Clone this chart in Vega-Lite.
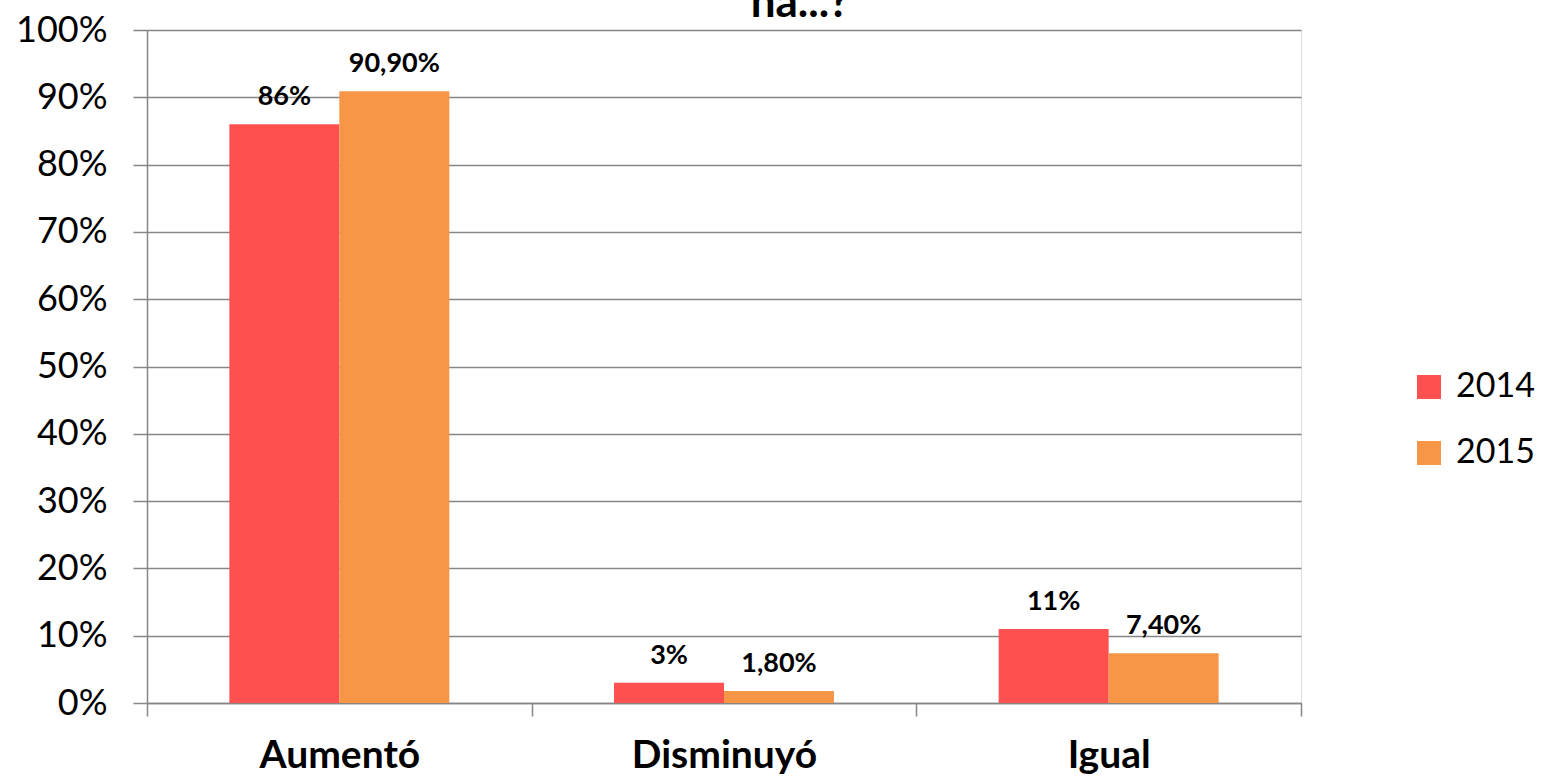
{
  "$schema": "https://vega.github.io/schema/vega-lite/v6.json",
  "width": 1154,
  "height": 673,
  "autosize": {"type": "none"},
  "padding": {"left": 147, "top": 30, "right": 240, "bottom": 75},
  "background": "white",
  "title": {
    "text": "na...?",
    "fontSize": 44,
    "font": "Lato",
    "fontWeight": "bold",
    "color": "black",
    "anchor": "middle",
    "baseline": "alphabetic",
    "offset": 0,
    "dy": 49,
    "dx": 76
  },
  "data": {
    "values": [
      {"categoria": "Aumentó", "anio": "2014", "valor": 86, "etiqueta": "86%"},
      {"categoria": "Aumentó", "anio": "2015", "valor": 90.9, "etiqueta": "90,90%"},
      {"categoria": "Disminuyó", "anio": "2014", "valor": 3, "etiqueta": "3%"},
      {"categoria": "Disminuyó", "anio": "2015", "valor": 1.8, "etiqueta": "1,80%"},
      {"categoria": "Igual", "anio": "2014", "valor": 11, "etiqueta": "11%"},
      {"categoria": "Igual", "anio": "2015", "valor": 7.4, "etiqueta": "7,40%"}
    ]
  },
  "encoding": {
    "x": {
      "field": "categoria",
      "type": "nominal",
      "sort": ["Aumentó", "Disminuyó", "Igual"],
      "scale": {"paddingInner": 0, "paddingOuter": 0},
      "axis": {
        "title": null,
        "labelAngle": 0,
        "labelLimit": 0,
        "tickBand": "extent",
        "tickSize": 13,
        "tickColor": "#868686",
        "tickWidth": 1.5,
        "domainColor": "#868686",
        "domainWidth": 1.5,
        "labelFont": "Lato",
        "labelFontSize": 39,
        "labelFontWeight": "bold",
        "labelColor": "black",
        "labelPadding": 20,
        "grid": false
      }
    },
    "xOffset": {
      "field": "anio",
      "type": "nominal",
      "scale": {"paddingOuter": 0.749, "paddingInner": 0}
    },
    "y": {
      "field": "valor",
      "type": "quantitative",
      "scale": {"domain": [0, 100], "nice": false},
      "axis": {
        "title": null,
        "values": [0, 10, 20, 30, 40, 50, 60, 70, 80, 90, 100],
        "labelExpr": "datum.value + '%'",
        "tickSize": 14,
        "tickColor": "#868686",
        "tickWidth": 1.5,
        "domainColor": "#868686",
        "domainWidth": 1.5,
        "gridColor": "#868686",
        "gridWidth": 1.5,
        "labelFont": "Lato",
        "labelFontSize": 36,
        "labelColor": "black",
        "labelPadding": 26
      }
    }
  },
  "layer": [
    {
      "mark": {"type": "bar"},
      "encoding": {
        "color": {
          "field": "anio",
          "type": "nominal",
          "scale": {"domain": ["2014", "2015"], "range": ["#FF5050", "#F79646"]},
          "legend": {
            "title": null,
            "orient": "none",
            "legendX": 1265,
            "legendY": 340,
            "symbolType": "square",
            "symbolSize": 576,
            "symbolStrokeWidth": 0,
            "labelFont": "Lato",
            "labelFontSize": 34,
            "labelColor": "black",
            "labelOffset": 10,
            "rowPadding": 32
          }
        }
      }
    },
    {
      "mark": {
        "type": "text",
        "baseline": "alphabetic",
        "dy": -19,
        "font": "Lato",
        "fontSize": 27,
        "fontWeight": "bold",
        "color": "black"
      },
      "encoding": {
        "text": {"field": "etiqueta", "type": "nominal"}
      }
    }
  ]
}
